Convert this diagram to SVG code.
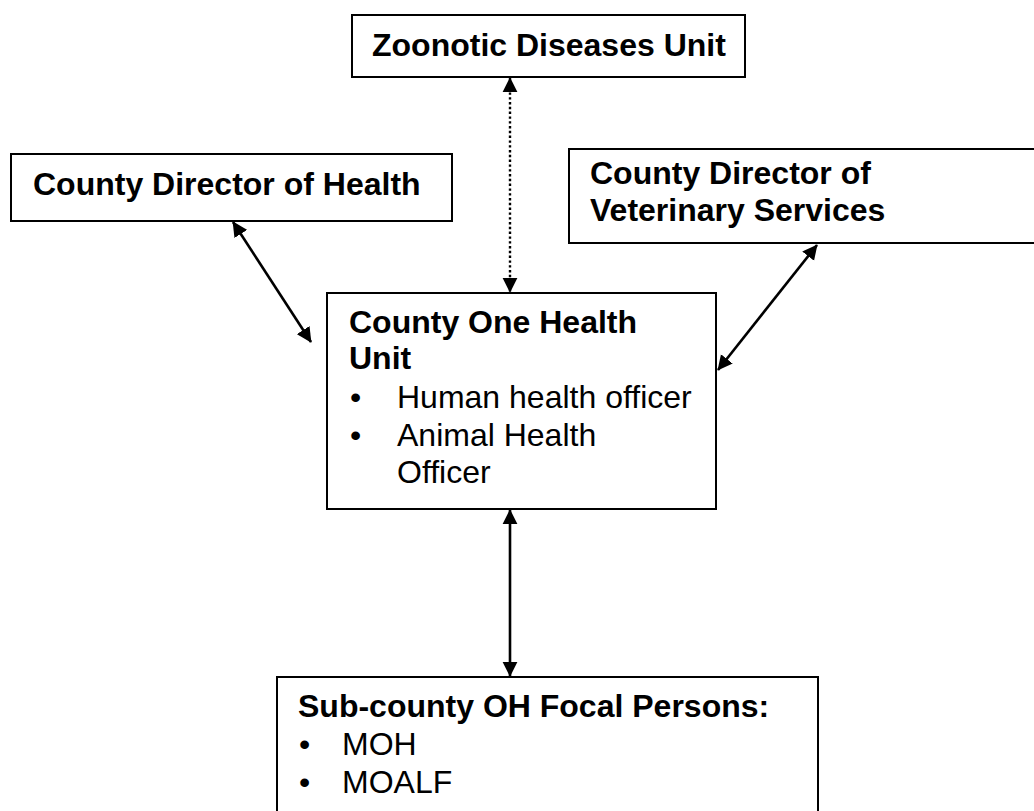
<svg xmlns="http://www.w3.org/2000/svg" width="1034" height="811" viewBox="0 0 1034 811">
<style>
.box{fill:#fff;stroke:#000;stroke-width:2}
.t{font-family:"Liberation Sans",Arial,sans-serif;font-size:32px;fill:#000}
.b{font-weight:bold}
.c{stroke:#000;stroke-width:2.6;fill:none}
.dot{stroke-width:2.4;stroke-dasharray:2.4 2.4}
</style>
<defs>
<marker id="ah" viewBox="0 0 10 10" refX="9.5" refY="5" markerWidth="15" markerHeight="16" markerUnits="userSpaceOnUse" orient="auto-start-reverse">
<path d="M0,0 L10,5 L0,10 z" fill="#000"/>
</marker>
</defs>
<rect width="1034" height="811" fill="#fff"/>
<g id="connectors">
<line class="c dot" x1="510" y1="78" x2="510" y2="292" marker-start="url(#ah)" marker-end="url(#ah)"/>
<line class="c" x1="233" y1="222" x2="311" y2="342" marker-start="url(#ah)" marker-end="url(#ah)"/>
<line class="c" x1="817" y1="245" x2="718" y2="370" marker-start="url(#ah)" marker-end="url(#ah)"/>
<line class="c" x1="510" y1="510" x2="510" y2="676" marker-start="url(#ah)" marker-end="url(#ah)"/>
</g>
<g id="zoonotic">
<rect class="box" x="352" y="15" width="393" height="62"/>
<text class="t b" x="372" y="56">Zoonotic Diseases Unit</text>
</g>
<g id="cdh">
<rect class="box" x="11" y="154" width="441" height="67"/>
<text class="t b" x="33" y="195">County Director of Health</text>
</g>
<g id="cdvs">
<rect class="box" x="569" y="149" width="480" height="94"/>
<text class="t b" x="590" y="184">County Director of</text>
<text class="t b" x="590" y="221">Veterinary Services</text>
</g>
<g id="cohu">
<rect class="box" x="327" y="293" width="389" height="216"/>
<text class="t b" x="349" y="333">County One Health</text>
<text class="t b" x="349" y="369">Unit</text>
<text class="t" x="350" y="408">•</text>
<text class="t" x="397" y="408">Human health officer</text>
<text class="t" x="350" y="446">•</text>
<text class="t" x="397" y="446">Animal Health</text>
<text class="t" x="397" y="483">Officer</text>
</g>
<g id="subcounty">
<rect class="box" x="277" y="677" width="541" height="160"/>
<text class="t b" x="298" y="717">Sub-county OH Focal Persons:</text>
<text class="t" x="299" y="755">•</text>
<text class="t" x="342" y="755">MOH</text>
<text class="t" x="299" y="793">•</text>
<text class="t" x="342" y="793">MOALF</text>
</g>
</svg>
